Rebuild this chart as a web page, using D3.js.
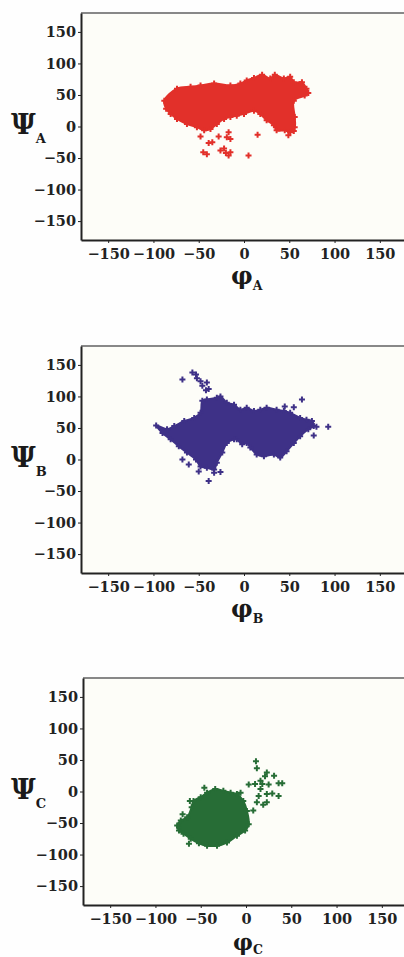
<!DOCTYPE html>
<html>
<head>
<meta charset="utf-8">
<script src="https://cdn.jsdelivr.net/npm/d3@7"></script>
<style>
  body { margin: 0; background: #fefefe; }
  .tick text { font-family: "DejaVu Serif", serif; font-weight: bold; font-size: 14.5px; fill: #222; }
  .axis path, .axis line { stroke: #222; }
  .lbl { font-family: "DejaVu Serif", serif; font-weight: bold; fill: #1a1a1a; }
</style>
</head>
<body>
<div id="chart"></div>
<script>
// tick values shared by all panels
const ticks = [-150, -100, -50, 0, 50, 100, 150];

// dense core outlines (phi, psi) and scattered points for each panel
const coreA = [[-88,41],[-74,60],[-59,63],[-48,65],[-33,68],[-15,65],[-4,68],[3,73],[11,77],[20,82],[29,76],[34,82],[44,76],[51,79],[55,70],[64,70],[69,60],[71,53],[67,49],[55,41],[56,15],[56,-1],[51,-9],[45,-6],[36,-6],[33,2],[25,10],[18,20],[11,25],[0,20],[-8,17],[-15,15],[-22,12],[-30,4],[-37,-4],[-44,-6],[-52,-1],[-63,4],[-74,12],[-81,20],[-86,28]];
const outA = [[-48,-16],[-39,-26],[-35,-25],[-28,-16],[-19,-17],[-15,-20],[-17,-9],[-45,-41],[-41,-44],[-26,-38],[-20,-42],[-17,-46],[-15,-41],[5,-46],[15,-13],[-22,-35],[49,-14],[55,-7]];

const coreB = [[-97,54],[-85,48],[-77,53],[-66,61],[-55,66],[-48,74],[-46,93],[-41,95],[-30,98],[-26,100],[-19,90],[-11,87],[-4,79],[3,82],[11,77],[18,79],[25,82],[36,79],[44,77],[51,74],[62,66],[69,63],[75,61],[77,53],[71,48],[62,37],[55,26],[47,13],[40,3],[33,8],[22,5],[14,8],[7,19],[3,26],[-2,24],[-8,32],[-11,32],[-19,26],[-24,11],[-30,-5],[-33,-16],[-41,-13],[-48,-11],[-53,0],[-63,11],[-72,21],[-81,32],[-90,42]];
const outB = [[-57,138],[-53,135],[-52,129],[-68,127],[-48,124],[-41,122],[-39,112],[-46,117],[-42,110],[64,95],[80,52],[93,52],[77,38],[55,83],[45,84],[-39,-34],[-61,-8],[-68,0],[-50,-19],[-26,-20],[-33,-21]];

const coreC = [[-76,-54],[-72,-46],[-65,-41],[-60,-25],[-58,-15],[-50,-9],[-43,-2],[-34,4],[-25,1],[-17,-2],[-10,-4],[-3,-15],[1,-31],[3,-52],[-1,-62],[-10,-70],[-21,-81],[-32,-86],[-43,-86],[-52,-82],[-61,-75],[-69,-67],[-74,-62]];
const outC = [[11,48],[12,37],[23,30],[21,24],[16,17],[10,12],[18,12],[25,11],[31,25],[36,13],[40,13],[3,11],[16,4],[14,-7],[23,-4],[29,-3],[36,-7],[19,-21],[23,-17],[12,-17],[8,-30],[-46,6],[-62,-15],[-70,-36],[-63,-83],[-74,-57],[-6,-2]];

const panels = [
  { core: coreA, out: outA, sub: "A", color: "#e2302a", top: 13, bottom: 240, left: 81, phiSize: 24, phiGap: 44 },
  { core: coreB, out: outB, sub: "B", color: "#3e3187", top: 346, bottom: 573, left: 81, phiSize: 24, phiGap: 44 },
  { core: coreC, out: outC, sub: "C", color: "#276d36", top: 678, bottom: 905, left: 83, phiSize: 22, phiGap: 45 }
];

const width = 404, height = 957;

const svg = d3.select("#chart")
  .append("svg")
  .attr("width", width)
  .attr("height", height);

const marker = d3.symbol().type(d3.symbolCross).size(20);

panels.forEach(function (p) {
  const xScale = d3.scaleLinear().domain([-180, 180]).range([p.left, p.left + 326]);
  const yScale = d3.scaleLinear().domain([-180, 180]).range([p.bottom, p.top]);

  // plot background + top frame line
  svg.append("rect")
    .attr("x", p.left).attr("y", p.top)
    .attr("width", width - p.left).attr("height", p.bottom - p.top)
    .attr("fill", "#fdfdf8");
  svg.append("line")
    .attr("x1", p.left).attr("x2", width)
    .attr("y1", p.top).attr("y2", p.top)
    .attr("stroke", "#888").attr("stroke-width", 2);

  // core cloud
  const line = d3.line()
    .x(d => xScale(d[0]))
    .y(d => yScale(d[1]))
    .curve(d3.curveCatmullRomClosed);

  svg.append("path")
    .datum(p.core)
    .attr("d", line)
    .attr("fill", p.color)
    .attr("stroke", p.color)
    .attr("stroke-width", 2);

  svg.selectAll(null)
    .data(p.core.concat(p.out))
    .enter()
    .append("path")
    .attr("d", marker)
    .attr("transform", d => `translate(${xScale(d[0])},${yScale(d[1])})`)
    .attr("fill", p.color);

  // axes
  svg.append("g")
    .attr("class", "axis")
    .attr("transform", `translate(0,${p.bottom})`)
    .call(d3.axisBottom(xScale).tickValues(ticks).tickSize(3).tickSizeOuter(0).tickPadding(6))
    .call(g => g.select(".domain").attr("stroke-width", 2));

  svg.append("g")
    .attr("class", "axis")
    .attr("transform", `translate(${p.left},0)`)
    .call(d3.axisLeft(yScale).tickValues(ticks).tickSize(3).tickSizeOuter(0).tickPadding(2))
    .call(g => g.select(".domain").attr("stroke-width", 2));

  // axis labels
  const psi = svg.append("text")
    .attr("class", "lbl")
    .attr("x", 11)
    .attr("y", yScale(0) + 7);
  psi.append("tspan").attr("font-size", 27).text("Ψ");
  psi.append("tspan").attr("font-size", 13).attr("dy", 9).text(p.sub);

  const phi = svg.append("text")
    .attr("class", "lbl")
    .attr("x", xScale(0) - 13)
    .attr("y", p.bottom + p.phiGap);
  phi.append("tspan").attr("font-size", p.phiSize).text("φ");
  phi.append("tspan").attr("font-size", 12.5).attr("dy", p.phiSize === 24 ? 6 : 4).text(p.sub);
});
</script>
</body>
</html>
